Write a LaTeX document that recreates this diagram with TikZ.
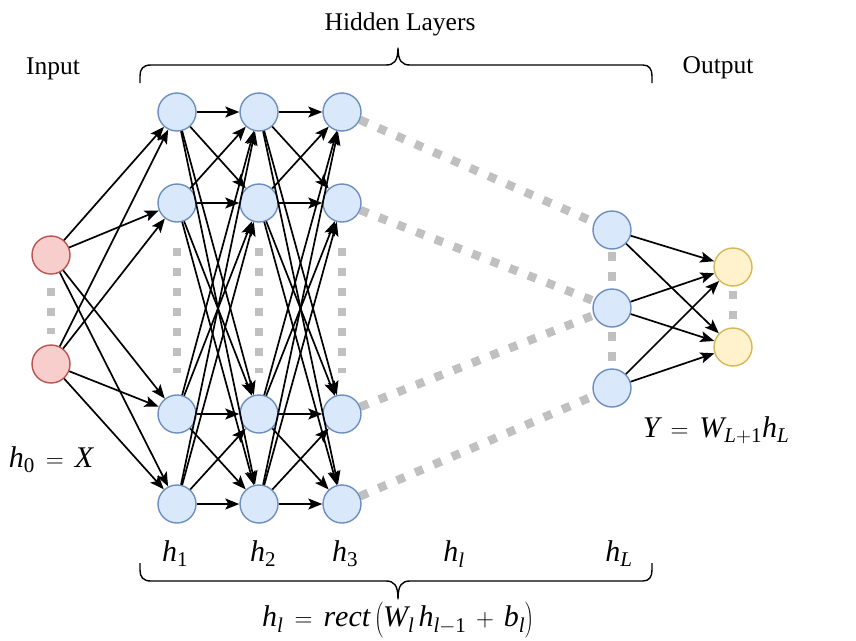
\documentclass[tikz,border=0pt]{standalone}
\usepackage{fontspec}
\setmainfont{Liberation Serif}
\usetikzlibrary{arrows.meta,backgrounds}
\definecolor{redfill}{HTML}{F8CECC}
\definecolor{reddraw}{HTML}{B85450}
\definecolor{bluefill}{HTML}{DAE8FC}
\definecolor{bluedraw}{HTML}{6C8EBF}
\definecolor{yelfill}{HTML}{FFF2CC}
\definecolor{yeldraw}{HTML}{D6B656}
\definecolor{dotgray}{HTML}{C0C0C0}
\newcommand{\mi}[1]{\mathit{#1}}
\newcommand{\mr}[1]{\mathrm{#1}}
\newcommand{\eqs}{\mathrel{\,=\,}}
\tikzset{
  neuron/.style={circle, minimum size=38pt, inner sep=0pt, line width=1.4pt},
  innode/.style={neuron, draw=reddraw, fill=redfill},
  hidnode/.style={neuron, draw=bluedraw, fill=bluefill},
  outnode/.style={neuron, draw=yeldraw, fill=yelfill},
  arr/.style={line width=1.7pt, -{Stealth[length=14pt,width=11pt,inset=3pt]}},
  gdot/.style={draw=dotgray, line width=8.5pt, dash pattern=on 8.5pt off 11.5pt},
  brc/.style={line width=1.4pt, line join=round},
  txt/.style={font=\fontsize{25.5pt}{28pt}\selectfont, inner sep=0pt},
  mth/.style={font=\fontsize{30pt}{32pt}\selectfont, inner sep=0pt, anchor=base},
}
\begin{document}
\begin{tikzpicture}[x=1pt,y=-1pt]
\useasboundingbox (0,0) rectangle (856,640);
% input
\node[innode] (i1) at (51,255) {};
\node[innode] (i2) at (51,364) {};
% hidden layers
\foreach \c/\x in {a/177,b/259,c/342}{
  \node[hidnode] (\c1) at (\x,112) {};
  \node[hidnode] (\c2) at (\x,203) {};
  \node[hidnode] (\c3) at (\x,414) {};
  \node[hidnode] (\c4) at (\x,504) {};
}
\node[hidnode] (L1) at (612,230) {};
\node[hidnode] (L2) at (612,308) {};
\node[hidnode] (L3) at (612,388) {};
% output
\node[outnode] (o1) at (733,267) {};
\node[outnode] (o2) at (733,347) {};

\begin{scope}[on background layer]
  \draw[gdot, shorten <=13pt, shorten >=10pt] (i1) -- (i2);
  \foreach \c in {a,b,c}{
    \draw[gdot, shorten <=25pt, shorten >=21pt] (\c2) -- (\c3);
  }
  \draw[gdot, dash phase=-2pt] (L1.center) -- (L3.center);
  \draw[gdot, dash phase=-4pt] (o1) -- (o2);
  \draw[gdot] (c1) -- (L1);
  \draw[gdot] (c2) -- (L2);
  \draw[gdot] (c3) -- (L2);
  \draw[gdot] (c4) -- (L3);
\end{scope}

% arrows
\foreach \s in {i1,i2}{
  \foreach \t in {a1,a2,a3,a4}{
    \draw[arr] (\s) -- (\t);
  }
}
\foreach \p/\q in {a/b,b/c}{
  \foreach \s in {1,2,3,4}{
    \foreach \t in {1,2,3,4}{
      \draw[arr] (\p\s) -- (\q\t);
    }
  }
}
\foreach \s in {L1,L2,L3}{
  \foreach \t in {o1,o2}{
    \draw[arr] (\s) -- (\t);
  }
}

% braces
\draw[brc] (140,83) -- (140,76) .. controls (140,69) and (143,65) .. (151,65)
  -- (386,65) .. controls (394,65) and (398,61) .. (398,48)
  .. controls (398,61) and (402,65) .. (410,65) -- (643,65)
  .. controls (649,65) and (652,69) .. (652,76) -- (652,83);
\draw[brc] (140,563) -- (140,570) .. controls (140,577) and (143,581) .. (151,581)
  -- (386,581) .. controls (394,581) and (398,585) .. (398,599)
  .. controls (398,585) and (402,581) .. (410,581) -- (643,581)
  .. controls (649,581) and (652,577) .. (652,570) -- (652,563);

% texts
\node[txt] (tin) at (53,69) {Input};
\node[txt] (tout) at (718,68) {Output};
\node[txt] (thid) at (400,24) {Hidden Layers};
\node[mth] (th0) at (51,467) {$\mi{h}_{\mr{0}} \eqs \mi{X}$};
\node[mth] (ty) at (716,437) {$\mi{Y} \eqs \mi{W}_{\mi{L}+\mr{1}}\mi{h}_{\mi{L}}$};
\node[mth] (th1) at (175,561) {$\mi{h}_{\mr{1}}$};
\node[mth] (th2) at (263,561) {$\mi{h}_{\mr{2}}$};
\node[mth] (th3) at (345,561) {$\mi{h}_{\mr{3}}$};
\node[mth] (thl) at (454,561) {$\mi{h}_{\mi{l}}$};
\node[mth] (thL) at (619,561) {$\mi{h}_{\mi{L}}$};
\node[mth] (tf) at (398,626) {$\mi{h}_{\mi{l}} \eqs \mi{rect}\left(\rule[-10pt]{0pt}{34pt}\mi{W}_{\mi{l}}\,\mi{h}_{\mi{l}-\mr{1}} \mathbin{\,+\,} \mi{b}_{\mi{l}}\right)$};
\end{tikzpicture}
\end{document}
